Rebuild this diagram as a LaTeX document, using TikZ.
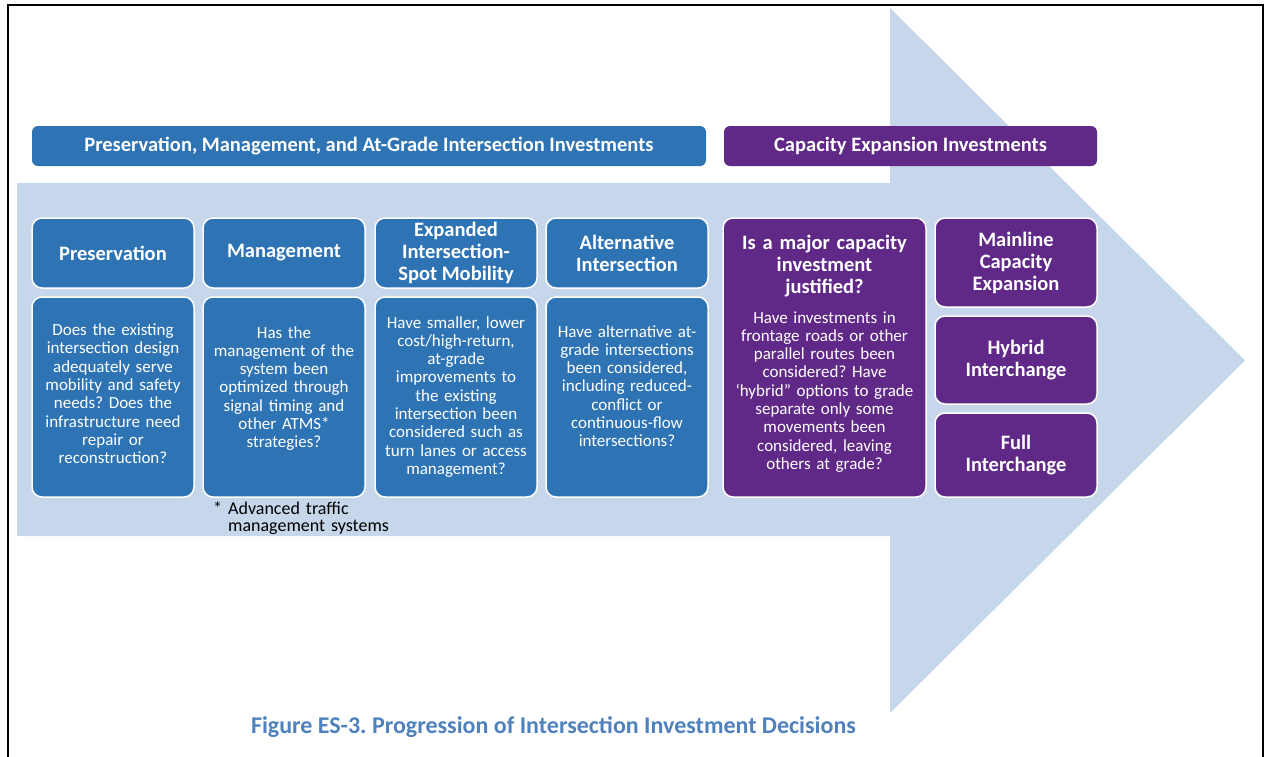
\documentclass[tikz,border=0pt]{standalone}
\usepackage{fontspec}
\setmainfont{Carlito}
\usepackage{tikz}
\definecolor{boxblue}{RGB}{46,116,181}
\definecolor{boxpurple}{RGB}{96,41,136}
\definecolor{arrowblue}{RGB}{198,214,235}
\definecolor{captionblue}{RGB}{79,129,189}
\frenchspacing

\begin{document}
\begin{tikzpicture}[x=1pt,y=-1pt,
  box/.style={rounded corners=10pt,draw=white,line width=1.5pt,inner sep=0pt,text=white,align=center,
    font=\bfseries\fontsize{20.5}{22}\selectfont},
  bluebox/.style={box,fill=boxblue},
  purplebox/.style={box,fill=boxpurple},
  headbar/.style={rounded corners=6pt,inner sep=0pt,text=white,minimum height=40pt,
    font=\bfseries\fontsize{20.5}{22}\selectfont},
  qtext/.style={anchor=base,inner sep=0pt,text=white,align=center,text width=160pt,
    font=\fontsize{17}{18.3}\selectfont},
  ]
\useasboundingbox (0,0) rectangle (1266,756);
\draw[line width=2pt] (8,760) -- (8,5) -- (1263,5) -- (1263,760);
\fill[arrowblue] (17,183) -- (890,183) -- (890,8) -- (1245,360.5) -- (890,713) -- (890,536) -- (17,536) -- cycle;

\node[headbar,fill=boxblue,minimum width=674pt] (pmbar) at (369,146) {Preservation, Management, and At-Grade Intersection Investments};
\node[headbar,fill=boxpurple,minimum width=373pt] (cebar) at (910.5,146) {Capacity Expansion Investments};

\node[bluebox,minimum width=162pt,minimum height=70pt] (pres) at (113,253) {Preservation};
\node[bluebox,minimum width=162pt,minimum height=70pt] (mgmt) at (284,253) {Management};
\node[bluebox,minimum width=162pt,minimum height=70pt] (spot) at (456,253) {Expanded\\Intersection-\\Spot Mobility};
\node[bluebox,minimum width=162pt,minimum height=70pt] (alt) at (627,253) {Alternative\\Intersection};

\node[bluebox,minimum width=162pt,minimum height=200pt] (presq) at (113,397) {};
\node[bluebox,minimum width=162pt,minimum height=200pt] (mgmtq) at (284,397) {};
\node[bluebox,minimum width=162pt,minimum height=200pt] (spotq) at (456,397) {};
\node[bluebox,minimum width=162pt,minimum height=200pt] (altq) at (627,397) {};

\node[qtext] (prestext) at (113,335.5) {Does the existing\\intersection design\\adequately serve\\mobility and safety\\needs? Does the\\infrastructure need\\repair or\\reconstruction?};
\node[qtext] (mgmttext) at (284,338) {Has the\\management of the\\system been\\optimized through\\signal timing and\\other ATMS*\\strategies?};
\node[qtext] (spottext) at (456,328) {Have smaller, lower\\cost/high-return,\\at-grade\\improvements to\\the existing\\intersection been\\considered such as\\turn lanes or access\\management?};
\node[qtext] (alttext) at (627,337) {Have alternative at-\\grade intersections\\been considered,\\including reduced-\\conflict or\\continuous-flow\\intersections?};

\node[anchor=base west,inner sep=0pt,align=left,text width=180pt,font=\fontsize{18}{17.5}\selectfont] (atms) at (213,514) {* Advanced traffic\\\hphantom{* }management systems};

\node[purplebox,minimum width=203pt,minimum height=279pt] (major) at (824.5,357.5) {};
\node[qtext,font=\bfseries\fontsize{20.5}{22}\selectfont,text width=195pt] (majortitle) at (824.5,249) {Is a major capacity\\investment\\justified?};
\node[qtext,text width=195pt] (majortext) at (824.5,323) {Have investments in\\frontage roads or other\\parallel routes been\\considered? Have\\‘hybrid” options to grade\\separate only some\\movements been\\considered, leaving\\others at grade?};

\node[purplebox,minimum width=162pt,minimum height=89pt] (mainline) at (1016,262.5) {Mainline\\Capacity\\Expansion};
\node[purplebox,minimum width=162pt,minimum height=88pt] (hybrid) at (1016,360) {Hybrid\\Interchange};
\node[purplebox,minimum width=162pt,minimum height=84pt] (full) at (1016,455) {Full\\Interchange};

\node[anchor=base,inner sep=0pt,text=captionblue,font=\bfseries\fontsize{24}{26}\selectfont] (caption) at (553.5,733) {Figure ES-3. Progression of Intersection Investment Decisions};
\end{tikzpicture}
\end{document}
